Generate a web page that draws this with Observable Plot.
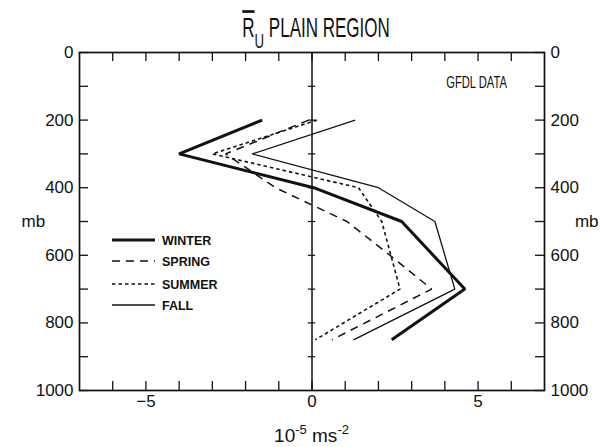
<!DOCTYPE html>
<html><head><meta charset="utf-8">
<script src="https://cdn.jsdelivr.net/npm/d3@7"></script>
<script src="https://cdn.jsdelivr.net/npm/@observablehq/plot@0.6"></script>
<style>body{margin:0;background:#fff}</style>
</head><body><div id="chart"></div>
<script>
// ---- data (10^-5 m s^-2 vs pressure level, mb) ----
const winterLevels = [200, 300, 400, 500, 700, 850];
const winterValues = [-1.5, -4.0, 0.05, 2.7, 4.6, 2.4];
const springLevels = [200, 300, 400, 500, 600, 700, 850];
const springValues = [-0.1, -2.6, -1.1, 1.05, 2.35, 3.6, 0.6];
const summerLevels = [200, 300, 400, 500, 700, 850];
const summerValues = [0.15, -3.0, 1.4, 2.1, 2.65, 0.1];
const fallLevels = [200, 300, 400, 500, 700, 850];
const fallValues = [1.3, -1.8, 2.0, 3.7, 4.3, 1.25];

const seasons = ["WINTER", "SPRING", "SUMMER", "FALL"];
const xMinorTicks = d3.range(-6, 7);
const xTickLabels = [-5, 0, 5];
const yMinorTicks = d3.range(0, 1001, 100);
const yTickLabels = [0, 200, 400, 600, 800, 1000];
const zeroLineTicks = d3.range(100, 1000, 100);

const rows = [];
[[seasons[0], winterLevels, winterValues], [seasons[1], springLevels, springValues],
 [seasons[2], summerLevels, summerValues], [seasons[3], fallLevels, fallValues]]
  .forEach(([s, L, V]) => L.forEach((p, i) => rows.push({season: s, p, v: V[i]})));

const style = {
  WINTER: {strokeWidth: 3, dash: null},
  SPRING: {strokeWidth: 1.5, dash: "8,6"},
  SUMMER: {strokeWidth: 1.6, dash: "3.5,3"},
  FALL:   {strokeWidth: 1.3, dash: null}
};

const W = 612, H = 447, mL = 79, mR = 68, mT = 52, mB = 57;
const fw = W - mL - mR, fh = H - mT - mB, tick = 9;
const F = "'Liberation Sans',Arial,Helvetica,sans-serif";
const ink = "#111";

const plot = Plot.plot({
  width: W, height: H,
  marginLeft: mL, marginRight: mR, marginTop: mT, marginBottom: mB,
  x: {domain: [-7, 7]},
  y: {domain: [0, 1000], reverse: true},
  style: {fontFamily: F, fontSize: "17px", color: ink, background: "#fff"},
  marks: [
    Plot.tickX(xMinorTicks, {x: d => d, insetTop: fh - tick, stroke: ink, strokeWidth: 1.3}),
    Plot.tickX(xMinorTicks, {x: d => d, insetBottom: fh - tick, stroke: ink, strokeWidth: 1.3}),
    Plot.tickY(yMinorTicks, {y: d => d, insetRight: fw - tick, stroke: ink, strokeWidth: 1.3}),
    Plot.tickY(yMinorTicks, {y: d => d, insetLeft: fw - tick, stroke: ink, strokeWidth: 1.3}),
    Plot.axisX(xTickLabels, {anchor: "bottom", tickSize: 0, tickPadding: 4, label: null, fontSize: 17, tickFormat: d3.format("d")}),
    Plot.axisY(yTickLabels, {anchor: "left", tickSize: 0, tickPadding: 6, label: null, fontSize: 17, tickFormat: d3.format("d")}),
    Plot.axisY(yTickLabels, {anchor: "right", tickSize: 0, tickPadding: 6, label: null, fontSize: 17, tickFormat: d3.format("d")}),
    Plot.ruleX([0], {stroke: ink, strokeWidth: 1.5}),
    Plot.ruleY(zeroLineTicks, {y: d => d, x1: -0.11, x2: 0.11, stroke: ink, strokeWidth: 1.2}),
    Plot.text(["mb"], {frameAnchor: "left", dx: -58, fontSize: 17}),
    Plot.text(["mb"], {frameAnchor: "right", dx: 54, fontSize: 17}),
    ...seasons.map(s => Plot.line(rows.filter(r => r.season === s), {
      x: "v", y: "p", stroke: ink, strokeWidth: style[s].strokeWidth,
      strokeDasharray: style[s].dash, strokeLinejoin: "miter", strokeLinecap: "butt"
    })),
    Plot.frame({stroke: ink, strokeWidth: 1.7})
  ]
});

const svg = d3.select(plot);
const xs = plot.scale("x");

// title (condensed face emulated by horizontal scaling)
const t = svg.append("text")
  .attr("transform", `translate(316,36.5) scale(0.63,1)`)
  .attr("text-anchor", "middle")
  .style("font-family", F).style("font-size", "27px").attr("fill", ink);
t.append("tspan").text("R").style("text-decoration", "overline");
t.append("tspan").text("U").attr("dy", 11.5).style("font-size", "21px");
t.append("tspan").text(" PLAIN REGION").attr("dy", -11.5);

// data source note
svg.append("text")
  .attr("transform", `translate(507,88) scale(0.66,1)`)
  .attr("text-anchor", "end")
  .style("font-family", F).style("font-size", "17px").attr("fill", ink)
  .text("GFDL DATA");

// units label
const u = svg.append("text")
  .attr("x", xs.apply(0)).attr("y", 442)
  .attr("text-anchor", "middle")
  .style("font-family", F).style("font-size", "19px").attr("fill", ink);
u.append("tspan").text("10");
u.append("tspan").text("-5").attr("dy", -8).style("font-size", "13px");
u.append("tspan").text(" ms").attr("dy", 8);
u.append("tspan").text("-2").attr("dy", -8).style("font-size", "13px");

// legend
const lg = svg.append("g");
const ly = [240, 261, 284, 305];
seasons.forEach((s, i) => {
  lg.append("line").attr("x1", 112).attr("x2", 155).attr("y1", ly[i]).attr("y2", ly[i])
    .attr("stroke", ink).attr("stroke-width", style[s].strokeWidth)
    .attr("stroke-dasharray", style[s].dash);
  lg.append("text").attr("x", 162).attr("y", ly[i]).attr("dy", "0.36em")
    .attr("text-anchor", "start")
    .style("font-family", F).style("font-weight", "bold")
    .style("font-size", "12.5px").attr("fill", ink).text(s);
});

document.getElementById("chart").append(plot);
</script>
</body></html>
